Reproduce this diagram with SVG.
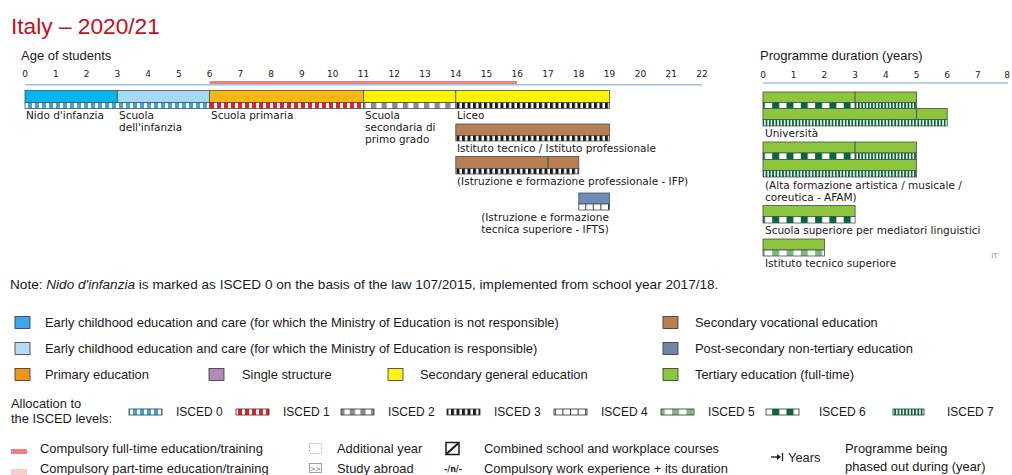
<svg xmlns="http://www.w3.org/2000/svg" width="1012" height="475" viewBox="0 0 1012 475">
<defs>
<style>
.lbl{font-family:"DejaVu Sans",Verdana,sans-serif;font-size:10.5px;fill:#1a1a1a}
.tick{font-family:"DejaVu Sans",Verdana,sans-serif;font-size:9px;fill:#1a1a1a;text-anchor:middle}
.lg{font-family:"Liberation Sans",Arial,sans-serif;font-size:12.9px;fill:#1a1a1a}
.note{font-family:"Liberation Sans",Arial,sans-serif;font-size:13.6px;fill:#1a1a1a}
.is{font-family:"Liberation Sans",Arial,sans-serif;font-size:12px;fill:#1a1a1a}
.hd{font-family:"Liberation Sans",Arial,sans-serif;font-size:13px;fill:#1a1a1a}
.bar{stroke:#4d4d4d;stroke-width:0.8}
.sw{stroke:#333;stroke-width:0.8}
</style>
<pattern id="p0" patternUnits="userSpaceOnUse" width="7" height="10"><rect width="7" height="10" fill="#fff"/><rect width="4" height="10" fill="#3aa6dd"/></pattern>
<pattern id="p1" patternUnits="userSpaceOnUse" width="7" height="10"><rect width="7" height="10" fill="#fff"/><rect width="4" height="10" fill="#e4202a"/></pattern>
<pattern id="p2" patternUnits="userSpaceOnUse" width="10.6" height="10"><rect width="10.6" height="10" fill="#fff"/><rect width="5.3" height="10" fill="#8c8c8c"/></pattern>
<pattern id="p3" patternUnits="userSpaceOnUse" width="5.5" height="10"><rect width="5.5" height="10" fill="#fff"/><rect width="3" height="10" fill="#1a1a1a"/></pattern>
<pattern id="p4" patternUnits="userSpaceOnUse" width="7.6" height="10"><rect width="7.6" height="10" fill="#fff"/><rect width="1" height="10" fill="#333"/></pattern>
<pattern id="p5" patternUnits="userSpaceOnUse" width="14.3" height="10"><rect width="14.3" height="10" fill="#fff"/><rect width="7" height="10" fill="#7db77f"/></pattern>
<pattern id="p6" patternUnits="userSpaceOnUse" width="14.3" height="10"><rect width="14.3" height="10" fill="#fff"/><rect width="7" height="10" fill="#006a3a"/></pattern>
<pattern id="p7" patternUnits="userSpaceOnUse" width="3.3" height="10"><rect width="3.3" height="10" fill="#fff"/><rect width="1.8" height="10" fill="#006a3a"/></pattern>
</defs>
<rect width="1012" height="475" fill="#fff"/>

<text x="11" y="34" font-family="Liberation Sans,Arial,sans-serif" font-size="22.7" fill="#c0101a">Italy – 2020/21</text>

<g id="age-axis">
<text class="hd" x="21" y="60">Age of students</text>
<line x1="25" y1="84.7" x2="702" y2="84.7" stroke="#9cc3e5" stroke-width="1.5"/>
<line x1="209.6" y1="82.5" x2="517" y2="82.5" stroke="#ee8080" stroke-width="3"/>
<text class="tick" x="25" y="77">0</text><text class="tick" x="55.8" y="77">1</text><text class="tick" x="86.5" y="77">2</text><text class="tick" x="117.3" y="77">3</text><text class="tick" x="148.1" y="77">4</text><text class="tick" x="178.9" y="77">5</text><text class="tick" x="209.6" y="77">6</text><text class="tick" x="240.4" y="77">7</text><text class="tick" x="271.2" y="77">8</text><text class="tick" x="301.9" y="77">9</text><text class="tick" x="332.7" y="77">10</text><text class="tick" x="363.5" y="77">11</text><text class="tick" x="394.2" y="77">12</text><text class="tick" x="425" y="77">13</text><text class="tick" x="455.8" y="77">14</text><text class="tick" x="486.5" y="77">15</text><text class="tick" x="517.3" y="77">16</text><text class="tick" x="548.1" y="77">17</text><text class="tick" x="578.8" y="77">18</text><text class="tick" x="609.6" y="77">19</text><text class="tick" x="640.4" y="77">20</text><text class="tick" x="671.2" y="77">21</text><text class="tick" x="701.9" y="77">22</text>
</g>

<g id="nido">
<rect class="bar" x="25" y="90.5" width="92.3" height="12" fill="#00b6ef"/>
<text class="lbl" x="26" y="119">Nido d'infanzia</text>
</g>
<g id="scuola-infanzia">
<rect class="bar" x="117.3" y="90.5" width="92.3" height="12" fill="#a3dbf6"/>
<text class="lbl" x="119" y="119">Scuola</text>
<text class="lbl" x="119" y="131">dell'infanzia</text>
</g>
<rect class="bar" x="25" y="102.5" width="184.6" height="6" fill="url(#p0)"/>
<g id="primaria">
<rect class="bar" x="209.6" y="90.5" width="153.9" height="12" fill="#fbb813"/>
<rect class="bar" x="209.6" y="102.5" width="153.9" height="6" fill="url(#p1)"/>
<text class="lbl" x="211" y="119">Scuola primaria</text>
</g>
<g id="secondaria-primo">
<rect class="bar" x="363.5" y="90.5" width="92.3" height="12" fill="#fff500"/>
<rect class="bar" x="363.5" y="102.5" width="92.3" height="6" fill="url(#p2)"/>
<text class="lbl" x="365" y="119">Scuola</text>
<text class="lbl" x="365" y="131">secondaria di</text>
<text class="lbl" x="365" y="143">primo grado</text>
</g>
<g id="liceo">
<rect class="bar" x="455.8" y="90.5" width="153.8" height="12" fill="#fff500"/>
<rect class="bar" x="455.8" y="102.5" width="153.8" height="6" fill="url(#p3)"/>
<text class="lbl" x="457" y="119">Liceo</text>
</g>
<g id="istituto-tecnico">
<rect class="bar" x="455.8" y="124" width="153.8" height="11.5" fill="#b87f54"/>
<rect class="bar" x="455.8" y="135.5" width="153.8" height="5.5" fill="url(#p3)"/>
<text class="lbl" x="457" y="152">Istituto tecnico / Istituto professionale</text>
</g>
<g id="ifp">
<rect class="bar" x="455.8" y="156.5" width="92.3" height="12" fill="#b87f54"/>
<rect class="bar" x="548.1" y="156.5" width="30.7" height="12" fill="#b87f54"/>
<rect class="bar" x="455.8" y="168.5" width="123" height="5.5" fill="url(#p3)"/>
<text class="lbl" x="457" y="185">(Istruzione e formazione professionale - IFP)</text>
</g>
<g id="ifts">
<rect class="bar" x="578.8" y="193" width="30.8" height="11" fill="#6d8cb5"/>
<rect class="bar" x="578.8" y="204" width="30.8" height="6" fill="url(#p4)"/>
<text class="lbl" x="545" y="221" text-anchor="middle">(Istruzione e formazione</text>
<text class="lbl" x="545" y="233" text-anchor="middle">tecnica superiore - IFTS)</text>
</g>

<g id="duration-axis">
<text class="hd" x="760" y="60">Programme duration (years)</text>
<line x1="763" y1="83" x2="1008" y2="83" stroke="#9cc3e5" stroke-width="1.5"/>
<text class="tick" x="763" y="78">0</text><text class="tick" x="793.7" y="78">1</text><text class="tick" x="824.4" y="78">2</text><text class="tick" x="855.1" y="78">3</text><text class="tick" x="885.8" y="78">4</text><text class="tick" x="916.5" y="78">5</text><text class="tick" x="947.2" y="78">6</text><text class="tick" x="977.9" y="78">7</text><text class="tick" x="1007" y="78">8</text>
</g>

<g id="universita">
<rect class="bar" x="763" y="92" width="92.1" height="10.5" fill="#8cc63e"/>
<rect class="bar" x="855.1" y="92" width="61.4" height="10.5" fill="#8cc63e"/>
<rect class="bar" x="763" y="102.5" width="92.1" height="6" fill="url(#p6)"/>
<rect class="bar" x="855.1" y="102.5" width="61.4" height="6" fill="url(#p7)"/>
<rect class="bar" x="763" y="108.5" width="153.5" height="11" fill="#8cc63e"/>
<rect class="bar" x="916.5" y="108.5" width="30.7" height="11" fill="#8cc63e"/>
<rect class="bar" x="763" y="119.5" width="184.2" height="6.5" fill="url(#p7)"/>
<text class="lbl" x="765" y="137">Università</text>
</g>
<g id="afam">
<rect class="bar" x="763" y="142" width="92.1" height="11" fill="#8cc63e"/>
<rect class="bar" x="855.1" y="142" width="61.4" height="11" fill="#8cc63e"/>
<rect class="bar" x="763" y="153" width="92.1" height="6.5" fill="url(#p6)"/>
<rect class="bar" x="855.1" y="153" width="61.4" height="6.5" fill="url(#p7)"/>
<rect class="bar" x="763" y="159.5" width="153.5" height="11" fill="#8cc63e"/>
<rect class="bar" x="763" y="170.5" width="153.5" height="6.5" fill="url(#p7)"/>
<text class="lbl" x="765" y="188.5">(Alta formazione artistica / musicale /</text>
<text class="lbl" x="765" y="201">coreutica - AFAM)</text>
</g>
<g id="mediatori">
<rect class="bar" x="763" y="205.5" width="92.1" height="11" fill="#8cc63e"/>
<rect class="bar" x="763" y="216.5" width="92.1" height="6.5" fill="url(#p6)"/>
<text class="lbl" x="765" y="233.5">Scuola superiore per mediatori linguistici</text>
</g>
<g id="its">
<rect class="bar" x="763" y="239" width="61.4" height="11" fill="#8cc63e"/>
<rect class="bar" x="763" y="250" width="61.4" height="6" fill="url(#p5)"/>
<text class="lbl" x="765" y="266.5">Istituto tecnico superiore</text>
</g>
<text x="991" y="258" font-family="DejaVu Serif,serif" font-size="6.5" fill="#888">IT</text>

<text class="note" x="10" y="288.5">Note: <tspan font-style="italic">Nido d'infanzia</tspan> is marked as ISCED 0 on the basis of the law 107/2015, implemented from school year 2017/18.</text>

<g id="legend">
<rect class="sw" x="15" y="316.5" width="15" height="12" fill="#3ea7e9"/>
<text class="lg" x="45" y="327">Early childhood education and care (for which the Ministry of Education is not responsible)</text>
<rect class="sw" x="15" y="342.5" width="15" height="12" fill="#b5dcf7"/>
<text class="lg" x="45" y="353">Early childhood education and care (for which the Ministry of Education is responsible)</text>
<rect class="sw" x="15" y="368.5" width="15" height="12" fill="#f1961b"/>
<text class="lg" x="45" y="379">Primary education</text>
<rect class="sw" x="209" y="368.5" width="15" height="12" fill="#b48ab9"/>
<text class="lg" x="242" y="379">Single structure</text>
<rect class="sw" x="388" y="368.5" width="15" height="12" fill="#fff21c"/>
<text class="lg" x="420" y="379">Secondary general education</text>
<rect class="sw" x="663" y="316.5" width="15" height="12" fill="#b97f4e"/>
<text class="lg" x="695" y="327">Secondary vocational education</text>
<rect class="sw" x="663" y="342.5" width="15" height="12" fill="#7085a8"/>
<text class="lg" x="695" y="353">Post-secondary non-tertiary education</text>
<rect class="sw" x="663" y="368.5" width="15" height="12" fill="#8cc63e"/>
<text class="lg" x="695" y="379">Tertiary education (full-time)</text>

<text class="lg" x="11" y="408">Allocation to</text>
<text class="lg" x="11" y="423">the ISCED levels:</text>
<rect class="sw" x="129" y="409" width="33" height="6" fill="url(#p0)"/>
<text class="is" x="176" y="416">ISCED 0</text>
<rect class="sw" x="236" y="409" width="33" height="6" fill="url(#p1)"/>
<text class="is" x="283" y="416">ISCED 1</text>
<rect class="sw" x="341" y="409" width="33" height="6" fill="url(#p2)"/>
<text class="is" x="388" y="416">ISCED 2</text>
<rect class="sw" x="447" y="409" width="33" height="6" fill="url(#p3)"/>
<text class="is" x="494" y="416">ISCED 3</text>
<rect class="sw" x="554" y="409" width="33" height="6" fill="url(#p4)"/>
<text class="is" x="601" y="416">ISCED 4</text>
<rect class="sw" x="661" y="409" width="33" height="6" fill="url(#p5)"/>
<text class="is" x="708" y="416">ISCED 5</text>
<rect class="sw" x="766" y="409" width="33" height="6" fill="url(#p6)"/>
<text class="is" x="819" y="416">ISCED 6</text>
<rect class="sw" x="893" y="409" width="31" height="6" fill="url(#p7)"/>
<text class="is" x="947" y="416">ISCED 7</text>

<rect x="11" y="449" width="16" height="5" fill="#ee8080"/>
<text class="lg" x="40" y="453">Compulsory full-time education/training</text>
<rect x="11" y="469" width="16" height="6" fill="#f8caca"/>
<text class="lg" x="40" y="472.5">Compulsory part-time education/training</text>
<rect x="309.5" y="443.5" width="12" height="10" fill="none" stroke="#999" stroke-width="0.8" stroke-dasharray="2,2"/>
<text class="lg" x="337" y="453">Additional year</text>
<rect x="309.5" y="463.5" width="12" height="9" fill="none" stroke="#888" stroke-width="0.8"/>
<text x="315.5" y="471" font-family="DejaVu Sans,sans-serif" font-size="6.5" fill="#666" text-anchor="middle">&gt;&gt;</text>
<text class="lg" x="337" y="472.5">Study abroad</text>
<rect x="446" y="442.5" width="13" height="12" fill="#fff" stroke="#1a1a1a" stroke-width="1.5"/>
<line x1="447" y1="453.5" x2="458" y2="443.5" stroke="#1a1a1a" stroke-width="2"/>
<text class="lg" x="484" y="453">Combined school and workplace courses</text>
<text x="453" y="472" font-family="DejaVu Sans,sans-serif" font-size="8" font-weight="bold" fill="#1a1a1a" text-anchor="middle">-/n/-</text>
<text class="lg" x="484" y="472.5">Compulsory work experience + its duration</text>
<line x1="771" y1="457" x2="780" y2="457" stroke="#1a1a1a" stroke-width="1.3"/>
<path d="M777,454 L781,457 L777,460 Z" fill="#1a1a1a"/>
<line x1="782.5" y1="453" x2="782.5" y2="461" stroke="#1a1a1a" stroke-width="1.3"/>
<text class="lg" x="788" y="462">Years</text>
<text class="lg" x="845" y="453">Programme being</text>
<text class="lg" x="845" y="470.5">phased out during (year)</text>
</g>
</svg>
